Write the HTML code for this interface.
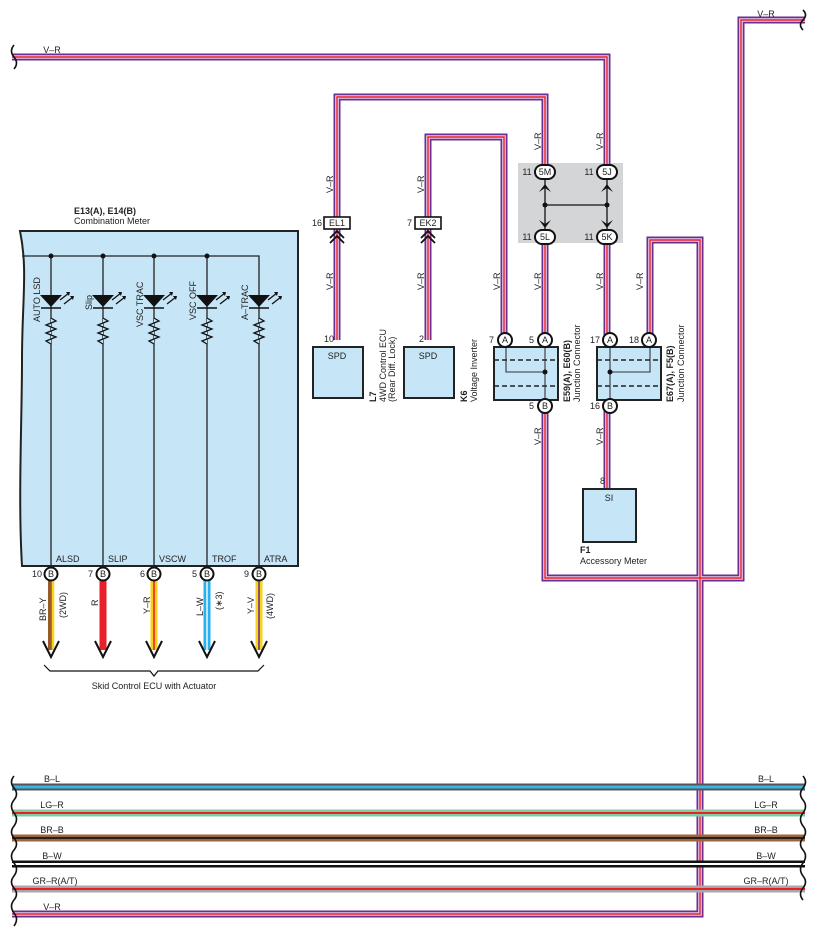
<!DOCTYPE html>
<html><head><meta charset="utf-8"><style>
html,body{margin:0;padding:0;background:#fff}
svg{display:block}
text{font-family:"Liberation Sans",sans-serif;font-size:9px;fill:#222}
</style></head><body>
<svg width="817" height="940" viewBox="0 0 817 940" xmlns="http://www.w3.org/2000/svg">
<defs>
<path id="w1" d="M12 57 H607 V172"/>
<path id="w2" d="M805 20 H741 V578 H545 V406"/>
<path id="w3" d="M337 340 V97 H545 V172"/>
<path id="w4" d="M428 340 V137 H504 V340"/>
<path id="w5" d="M545 237 V340"/>
<path id="w6" d="M607 237 V340"/>
<path id="w7" d="M650 340 V240 H700 V914 H12"/>
<path id="w8" d="M607 406 V488"/>
</defs>
<rect x="518" y="163" width="105" height="80" fill="#d4d5d7"/>
<g fill="none" stroke-linejoin="miter">
<g stroke="#6a2f94" stroke-width="7"><use href="#w1"/><use href="#w2"/><use href="#w3"/><use href="#w4"/><use href="#w5"/><use href="#w6"/><use href="#w7"/><use href="#w8"/></g>
<g stroke="#f2d2e6" stroke-width="3.6"><use href="#w1"/><use href="#w2"/><use href="#w3"/><use href="#w4"/><use href="#w5"/><use href="#w6"/><use href="#w7"/><use href="#w8"/></g>
<g stroke="#e8202a" stroke-width="1.4"><use href="#w1"/><use href="#w2"/><use href="#w3"/><use href="#w4"/><use href="#w5"/><use href="#w6"/><use href="#w7"/><use href="#w8"/></g>
</g>
<g fill="none">
<line x1="12" y1="787" x2="805" y2="787" stroke="#555" stroke-width="7"/>
<line x1="12" y1="787" x2="805" y2="787" stroke="#3ab4e8" stroke-width="3"/>
<line x1="12" y1="813" x2="805" y2="813" stroke="#7ecba0" stroke-width="7"/>
<line x1="12" y1="813" x2="805" y2="813" stroke="#e8202a" stroke-width="2"/>
<line x1="12" y1="838" x2="805" y2="838" stroke="#a0643c" stroke-width="7"/>
<line x1="12" y1="838" x2="805" y2="838" stroke="#222" stroke-width="2"/>
<line x1="12" y1="864" x2="805" y2="864" stroke="#111" stroke-width="7"/>
<line x1="12" y1="864" x2="805" y2="864" stroke="#fff" stroke-width="2"/>
<line x1="12" y1="889" x2="805" y2="889" stroke="#a8a8a8" stroke-width="7"/>
<line x1="12" y1="889" x2="805" y2="889" stroke="#e8202a" stroke-width="2"/>
</g>
<g fill="none" stroke="#111" stroke-width="1.6">
<path d="M14 45 q-5 6 0 12 q5 6 0 12"/>
<path d="M803 10 q5 5 0 10 q-5 5 0 10"/>
<path d="M14 776 q-5 6 0 12 q5 6 0 12 q-5 6 0 13 q5 6 0 13 q-5 6 0 12 q5 6 0 12 q-5 6 0 13 q5 6 0 13 q-5 6 0 12 q5 6 0 12 q-5 6 0 13 q5 6 0 13"/>
<path d="M803 776 q5 6 0 12 q-5 6 0 12 q5 6 0 13 q-5 6 0 13 q5 6 0 12 q-5 6 0 12 q5 6 0 13 q-5 6 0 13 q5 6 0 12 q-5 6 0 12"/>
</g>
<g text-anchor="middle">
<text x="52" y="53">V–R</text><text x="766" y="17">V–R</text>
<text x="52" y="782">B–L</text><text x="766" y="782">B–L</text>
<text x="52" y="808">LG–R</text><text x="766" y="808">LG–R</text>
<text x="52" y="833">BR–B</text><text x="766" y="833">BR–B</text>
<text x="52" y="859">B–W</text><text x="766" y="859">B–W</text>
<text x="55" y="884">GR–R(A/T)</text><text x="766" y="884">GR–R(A/T)</text>
<text x="52" y="910">V–R</text>
</g>
<g>
<text transform="translate(333,193) rotate(-90)">V–R</text>
<text transform="translate(424,193) rotate(-90)">V–R</text>
<text transform="translate(333,290) rotate(-90)">V–R</text>
<text transform="translate(424,290) rotate(-90)">V–R</text>
<text transform="translate(541,150) rotate(-90)">V–R</text>
<text transform="translate(603,150) rotate(-90)">V–R</text>
<text transform="translate(500,290) rotate(-90)">V–R</text>
<text transform="translate(541,290) rotate(-90)">V–R</text>
<text transform="translate(603,290) rotate(-90)">V–R</text>
<text transform="translate(643,290) rotate(-90)">V–R</text>
<text transform="translate(541,445) rotate(-90)">V–R</text>
<text transform="translate(603,445) rotate(-90)">V–R</text>
</g>
<g stroke="#111" stroke-width="1.3" fill="none">
<line x1="545" y1="180" x2="545" y2="230"/><line x1="607" y1="180" x2="607" y2="230"/>
<line x1="545" y1="205" x2="607" y2="205"/>
</g>
<circle cx="545" cy="205" r="2.5" fill="#111"/><circle cx="607" cy="205" r="2.5" fill="#111"/>
<g fill="#111">
<path d="M539 192 L545 184 L551 192 L545 188 Z"/><path d="M601 192 L607 184 L613 192 L607 188 Z"/>
<path d="M539 220 L545 228 L551 220 L545 224 Z"/><path d="M601 220 L607 228 L613 220 L607 224 Z"/>
</g>
<g fill="#fff" stroke="#111" stroke-width="2">
<rect x="535" y="165" width="20" height="14" rx="7"/><rect x="597" y="165" width="20" height="14" rx="7"/>
<rect x="535" y="230" width="20" height="14" rx="7"/><rect x="597" y="230" width="20" height="14" rx="7"/>
</g>
<g text-anchor="middle">
<text x="545" y="175">5M</text><text x="607" y="175">5J</text><text x="545" y="240">5L</text><text x="607" y="240">5K</text>
<text x="527" y="175">11</text><text x="589" y="175">11</text><text x="527" y="240">11</text><text x="589" y="240">11</text>
</g>
<rect x="324" y="217" width="26" height="12" fill="#fff" stroke="#111" stroke-width="1.6"/>
<rect x="415" y="217" width="26" height="12" fill="#fff" stroke="#111" stroke-width="1.6"/>
<text x="337" y="226" text-anchor="middle">EL1</text><text x="428" y="226" text-anchor="middle">EK2</text>
<text x="312" y="226">16</text><text x="407" y="226">7</text>
<g fill="none" stroke="#111" stroke-width="1.8">
<path d="M330 238 L337 231 L344 238 M330 243 L337 236 L344 243"/>
<path d="M421 238 L428 231 L435 238 M421 243 L428 236 L435 243"/>
</g>
<g fill="#c6e6f8" stroke="#222" stroke-width="2">
<rect x="313" y="347" width="50" height="51"/>
<rect x="404" y="347" width="50" height="51"/>
<rect x="494" y="347" width="64" height="53"/>
<rect x="597" y="347" width="64" height="53"/>
<rect x="583" y="489" width="53" height="53"/>
</g>
<g text-anchor="middle"><text x="337" y="359">SPD</text><text x="428" y="359">SPD</text><text x="609" y="501">SI</text></g>
<text x="324" y="342">10</text><text x="419" y="342">2</text><text x="600" y="484">8</text>
<g stroke="#222" stroke-width="1.6" stroke-dasharray="5,3"><line x1="494" y1="360" x2="558" y2="360"/><line x1="494" y1="386" x2="558" y2="386"/><line x1="597" y1="360" x2="661" y2="360"/><line x1="597" y1="386" x2="661" y2="386"/></g>
<g stroke="#333" stroke-width="1.1" fill="none">
<path d="M506 347 V372 H545"/><line x1="545" y1="347" x2="545" y2="400"/>
<path d="M650 347 V372 H610"/><line x1="610" y1="347" x2="610" y2="400"/>
</g>
<circle cx="545" cy="372" r="2.5" fill="#111"/><circle cx="610" cy="372" r="2.5" fill="#111"/>
<g fill="#fff" stroke="#111" stroke-width="2">
<circle cx="505" cy="340" r="7"/><circle cx="545" cy="340" r="7"/><circle cx="610" cy="340" r="7"/><circle cx="649" cy="340" r="7"/>
<circle cx="545" cy="406" r="7"/><circle cx="610" cy="406" r="7"/>
</g>
<g text-anchor="middle">
<text x="505" y="343">A</text><text x="545" y="343">A</text><text x="610" y="343">A</text><text x="649" y="343">A</text>
<text x="545" y="409">B</text><text x="610" y="409">B</text>
</g>
<text x="489" y="343">7</text><text x="529" y="343">5</text><text x="590" y="343">17</text><text x="629" y="343">18</text>
<text x="529" y="409">5</text><text x="590" y="409">16</text>
<g>
<text transform="translate(376,402) rotate(-90)" style="font-weight:bold">L7</text>
<text transform="translate(386,402) rotate(-90)">4WD Control ECU</text>
<text transform="translate(395,402) rotate(-90)">(Rear Diff.  Lock)</text>
<text transform="translate(467,402) rotate(-90)" style="font-weight:bold">K6</text>
<text transform="translate(477,402) rotate(-90)">Voltage Inverter</text>
<text transform="translate(570,402) rotate(-90)" style="font-weight:bold">E59(A), E60(B)</text>
<text transform="translate(580,402) rotate(-90)">Junction Connector</text>
<text transform="translate(673,402) rotate(-90)" style="font-weight:bold">E67(A), F5(B)</text>
<text transform="translate(684,402) rotate(-90)">Junction Connector</text>
</g>
<text x="580" y="553" style="font-weight:bold">F1</text><text x="580" y="564">Accessory Meter</text>
<text x="74" y="214" style="font-weight:bold">E13(A), E14(B)</text>
<text x="74" y="224">Combination Meter</text>
<path d="M20 231 H298 V566 H22 C18 500 22 420 22 360 C22 300 28 270 20 231 Z" fill="#c6e6f8" stroke="#222" stroke-width="2"/>
<g stroke="#222" stroke-width="1.3" fill="none">
<path d="M22 256 H259 V566"/>
<line x1="51" y1="256" x2="51" y2="566"/><line x1="103" y1="256" x2="103" y2="566"/>
<line x1="154" y1="256" x2="154" y2="566"/><line x1="207" y1="256" x2="207" y2="566"/>
</g>
<g fill="#111">
<circle cx="51" cy="256" r="2.5"/><circle cx="103" cy="256" r="2.5"/><circle cx="154" cy="256" r="2.5"/><circle cx="207" cy="256" r="2.5"/>
</g>
<g id="led">
<path d="M40 295 H62 L51 307 Z" fill="#111"/><line x1="41" y1="308" x2="61" y2="308" stroke="#111" stroke-width="1.5"/>
<path d="M60 300 L69 293 M64 304 L73 297" stroke="#111" stroke-width="1.3"/>
<path d="M66 292 L70 292 L69 296 Z M70 296 L74 296 L73 300 Z" fill="#111"/>
<path d="M51 318 L56 321 L46 325 L56 329 L46 333 L56 337 L46 341 L51 344" fill="#c6e6f8" stroke="#111" stroke-width="1.3"/>
</g>
<use href="#led" x="52"/><use href="#led" x="103"/><use href="#led" x="156"/><use href="#led" x="208"/>
<g>
<text transform="translate(40,322) rotate(-90)">AUTO LSD</text>
<text transform="translate(92,310) rotate(-90)">Slip</text>
<text transform="translate(143,327) rotate(-90)">VSC TRAC</text>
<text transform="translate(196,320) rotate(-90)">VSC OFF</text>
<text transform="translate(248,320) rotate(-90)">A–TRAC</text>
</g>
<text x="56" y="562">ALSD</text><text x="108" y="562">SLIP</text><text x="159" y="562">VSCW</text><text x="212" y="562">TROF</text><text x="264" y="562">ATRA</text>
<g fill="none">
<line x1="51" y1="575" x2="51" y2="650" stroke="#9a5a2a" stroke-width="6"/><line x1="53" y1="575" x2="53" y2="650" stroke="#f7d417" stroke-width="2.5"/>
<line x1="103" y1="575" x2="103" y2="650" stroke="#e8202a" stroke-width="7"/>
<line x1="154" y1="575" x2="154" y2="650" stroke="#f7d417" stroke-width="7"/><line x1="154" y1="575" x2="154" y2="650" stroke="#e8202a" stroke-width="1.6"/>
<line x1="207" y1="575" x2="207" y2="650" stroke="#2ab0ec" stroke-width="7"/><line x1="207" y1="575" x2="207" y2="650" stroke="#fff" stroke-width="1.4"/>
<line x1="259" y1="575" x2="259" y2="650" stroke="#f7d417" stroke-width="7"/><line x1="259" y1="575" x2="259" y2="650" stroke="#6a2f94" stroke-width="1.6"/>
</g>
<g fill="none" stroke="#111" stroke-width="2">
<path d="M43 641 L51 657 L59 641"/><path d="M95 641 L103 657 L111 641"/><path d="M146 641 L154 657 L162 641"/><path d="M199 641 L207 657 L215 641"/><path d="M251 641 L259 657 L267 641"/>
<path d="M44 665 L50 671 H150 L154 676 L158 671 H258 L264 665" stroke-width="1.2"/>
</g>
<text x="154" y="689" text-anchor="middle">Skid Control ECU with Actuator</text>
<g fill="#fff" stroke="#111" stroke-width="2">
<circle cx="51" cy="574" r="6.5"/><circle cx="103" cy="574" r="6.5"/><circle cx="154" cy="574" r="6.5"/><circle cx="207" cy="574" r="6.5"/><circle cx="259" cy="574" r="6.5"/>
</g>
<g text-anchor="middle"><text x="51" y="577">B</text><text x="103" y="577">B</text><text x="154" y="577">B</text><text x="207" y="577">B</text><text x="259" y="577">B</text></g>
<text x="32" y="577">10</text><text x="88" y="577">7</text><text x="140" y="577">6</text><text x="192" y="577">5</text><text x="244" y="577">9</text>
<g>
<text transform="translate(46,621) rotate(-90)">BR–Y</text><text transform="translate(66,618) rotate(-90)">(2WD)</text>
<text transform="translate(98,606) rotate(-90)">R</text>
<text transform="translate(150,614) rotate(-90)">Y–R</text>
<text transform="translate(203,616) rotate(-90)">L–W</text><text transform="translate(222,610) rotate(-90)">(∗3)</text>
<text transform="translate(254,614) rotate(-90)">Y–V</text><text transform="translate(273,619) rotate(-90)">(4WD)</text>
</g>
</svg>
</body></html>
